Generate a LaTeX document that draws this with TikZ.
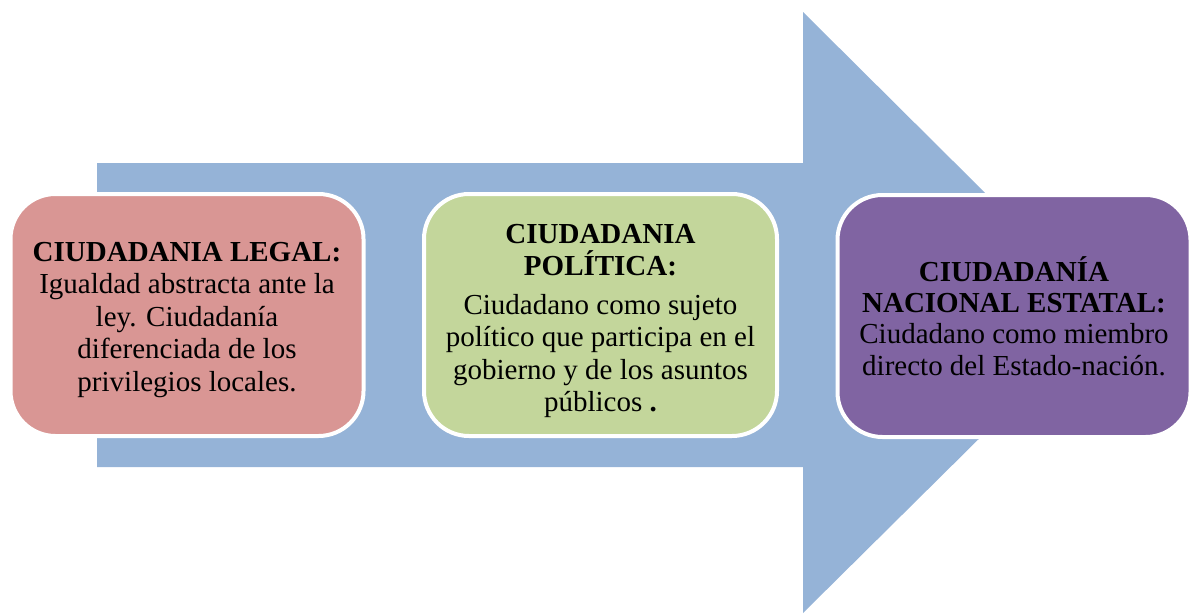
\documentclass[tikz,border=0pt]{standalone}
\usepackage{fontspec}
\setmainfont{Liberation Serif}
\definecolor{arrowblue}{HTML}{95B3D7}
\definecolor{boxred}{HTML}{D99694}
\definecolor{boxgreen}{HTML}{C3D69B}
\definecolor{boxpurple}{HTML}{8064A2}
\tikzset{
  stagebox/.style={draw=white, line width=4pt, rounded corners=45pt,
    minimum width=353pt, minimum height=242pt, inner sep=0pt},
  boxtext/.style={align=center, inner sep=0pt,
    font=\fontsize{29}{32.5}\selectfont}
}
\begin{document}
\begin{tikzpicture}[x=1pt,y=-1pt]
\useasboundingbox (0,0) rectangle (1191,613);
\fill[arrowblue] (97,163) -- (803,163) -- (803,12) -- (1106,313) -- (803,613) -- (803,467) -- (97,467) -- cycle;
\node[stagebox, fill=boxred] (legal) at (187,315) {};
\node[stagebox, fill=boxgreen] (politica) at (600.5,315) {};
\node[stagebox, fill=boxpurple] (nacional) at (1014,316) {};
\node[boxtext] (legaltext) at ([yshift=-5pt]legal.center)
  {\textbf{CIUDADANIA LEGAL:}\\Igualdad abstracta ante la\\ley. Ciudadanía\\diferenciada de los\\privilegios locales.};
\node[boxtext] (politicatext) at ([yshift=-6pt]politica.center)
  {\textbf{CIUDADANIA}\\\textbf{POLÍTICA:}\\[6pt]Ciudadano como sujeto\\político que participa en el\\gobierno y de los asuntos\\públicos \textbf{.}};
\node[boxtext, font=\fontsize{29}{31.3}\selectfont] (nacionaltext) at (nacional.center)
  {\textbf{CIUDADANÍA}\\\textbf{NACIONAL ESTATAL:}\\Ciudadano como miembro\\directo del Estado-nación.};
\end{tikzpicture}
\end{document}
